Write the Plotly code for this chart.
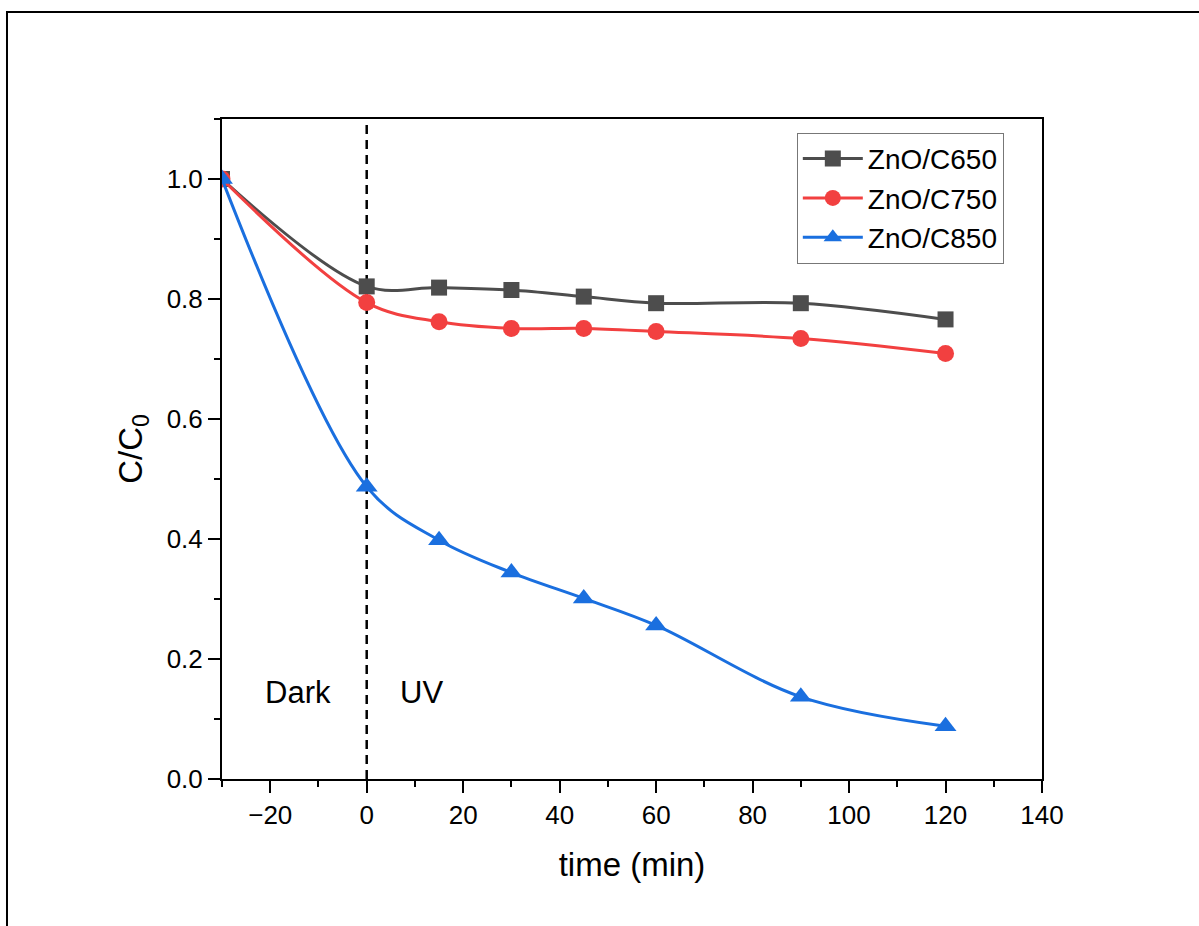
import plotly.graph_objects as go

time_min = [-30, 0, 15, 30, 45, 60, 90, 120]
c650 = [1.0, 0.821, 0.819, 0.815, 0.804, 0.793, 0.793, 0.766]
c750 = [1.0, 0.794, 0.762, 0.751, 0.751, 0.746, 0.734, 0.709]
c850 = [1.0, 0.487, 0.398, 0.344, 0.301, 0.256, 0.137, 0.088]
names = ["ZnO/C650", "ZnO/C750", "ZnO/C850"]
colors = ["#4D4D4D", "#F24040", "#1A6FDF"]
symbols = ["square", "circle", "triangle-up"]
msizes = [16, 17, 19]

FONT = "Liberation Sans, Arial, sans-serif"

fig = go.Figure()
for ys, nm, col, sym, ms in zip([c650, c750, c850], names, colors, symbols, msizes):
    fig.add_trace(go.Scatter(
        x=time_min, y=ys, name=nm, mode="lines+markers",
        line=dict(color=col, width=3, shape="spline", smoothing=1.0),
        marker=dict(symbol=sym, size=ms, color=col),
    ))

# dashed separator at t = 0
fig.add_shape(type="line", xref="x", yref="y", x0=0, x1=0, y0=0, y1=1.1,
              line=dict(color="black", width=2.5, dash="9px,6px"), layer="below")

fig.add_annotation(x=-14.2, y=0.145, xref="x", yref="y", text="Dark", showarrow=False,
                   font=dict(family=FONT, size=31, color="black"))
fig.add_annotation(x=11.3, y=0.145, xref="x", yref="y", text="UV", showarrow=False,
                   font=dict(family=FONT, size=31, color="black"))

# outer frame
fig.add_shape(type="rect", xref="paper", yref="paper",
              x0=-0.2622, x1=1.2, y0=-0.25, y1=1.1621,
              line=dict(color="black", width=2), fillcolor="rgba(0,0,0,0)")

axis_common = dict(showgrid=False, zeroline=False, linecolor="black", linewidth=2,
                   tickcolor="black", tickwidth=2,
                   tickfont=dict(family=FONT, size=26, color="black"))

fig.update_layout(
    width=1199, height=926,
    margin=dict(l=222, r=157, t=119, b=147),
    paper_bgcolor="white", plot_bgcolor="white",
    font=dict(family=FONT, color="black"),
    showlegend=True,
    legend=dict(x=0.701, y=0.979, xanchor="left", yanchor="top",
                bordercolor="#777777", borderwidth=1, bgcolor="white",
                font=dict(family=FONT, size=28, color="black"),
                itemwidth=60, tracegroupgap=0),
    xaxis=dict(range=[-30, 140], dtick=20, tick0=0, ticks="outside", ticklen=12,
               showline=True, mirror=True,
               minor=dict(ticks="outside", ticklen=6, dtick=10, tickwidth=2, tickcolor="black"),
               title=dict(text="time (min)", font=dict(family=FONT, size=33, color="black"),
                          standoff=24),
               **axis_common),
    yaxis=dict(range=[0, 1.1], dtick=0.2, tick0=0, tickformat=".1f", ticks="outside",
               ticklen=12, showline=True, mirror=True,
               minor=dict(ticks="outside", ticklen=6, dtick=0.1, tickwidth=2, tickcolor="black"),
               title=dict(text="C/C<sub>0</sub>", font=dict(family=FONT, size=33, color="black"),
                          standoff=14),
               **axis_common),
    xaxis2=dict(overlaying="x", side="top", anchor="y", range=[-30, 140], dtick=20, tick0=0,
                ticks="inside", ticklen=11, tickwidth=2, tickcolor="black",
                showticklabels=False, showline=False, showgrid=False, zeroline=False,
                minor=dict(ticks="inside", ticklen=6, dtick=10, tickwidth=2, tickcolor="black")),
    yaxis2=dict(overlaying="y", side="right", anchor="x", range=[0, 1.1], dtick=0.2, tick0=0,
                ticks="inside", ticklen=11, tickwidth=2, tickcolor="black",
                showticklabels=False, showline=False, showgrid=False, zeroline=False,
                minor=dict(ticks="inside", ticklen=6, dtick=0.1, tickwidth=2, tickcolor="black")),
)

fig.write_html("out.html")
